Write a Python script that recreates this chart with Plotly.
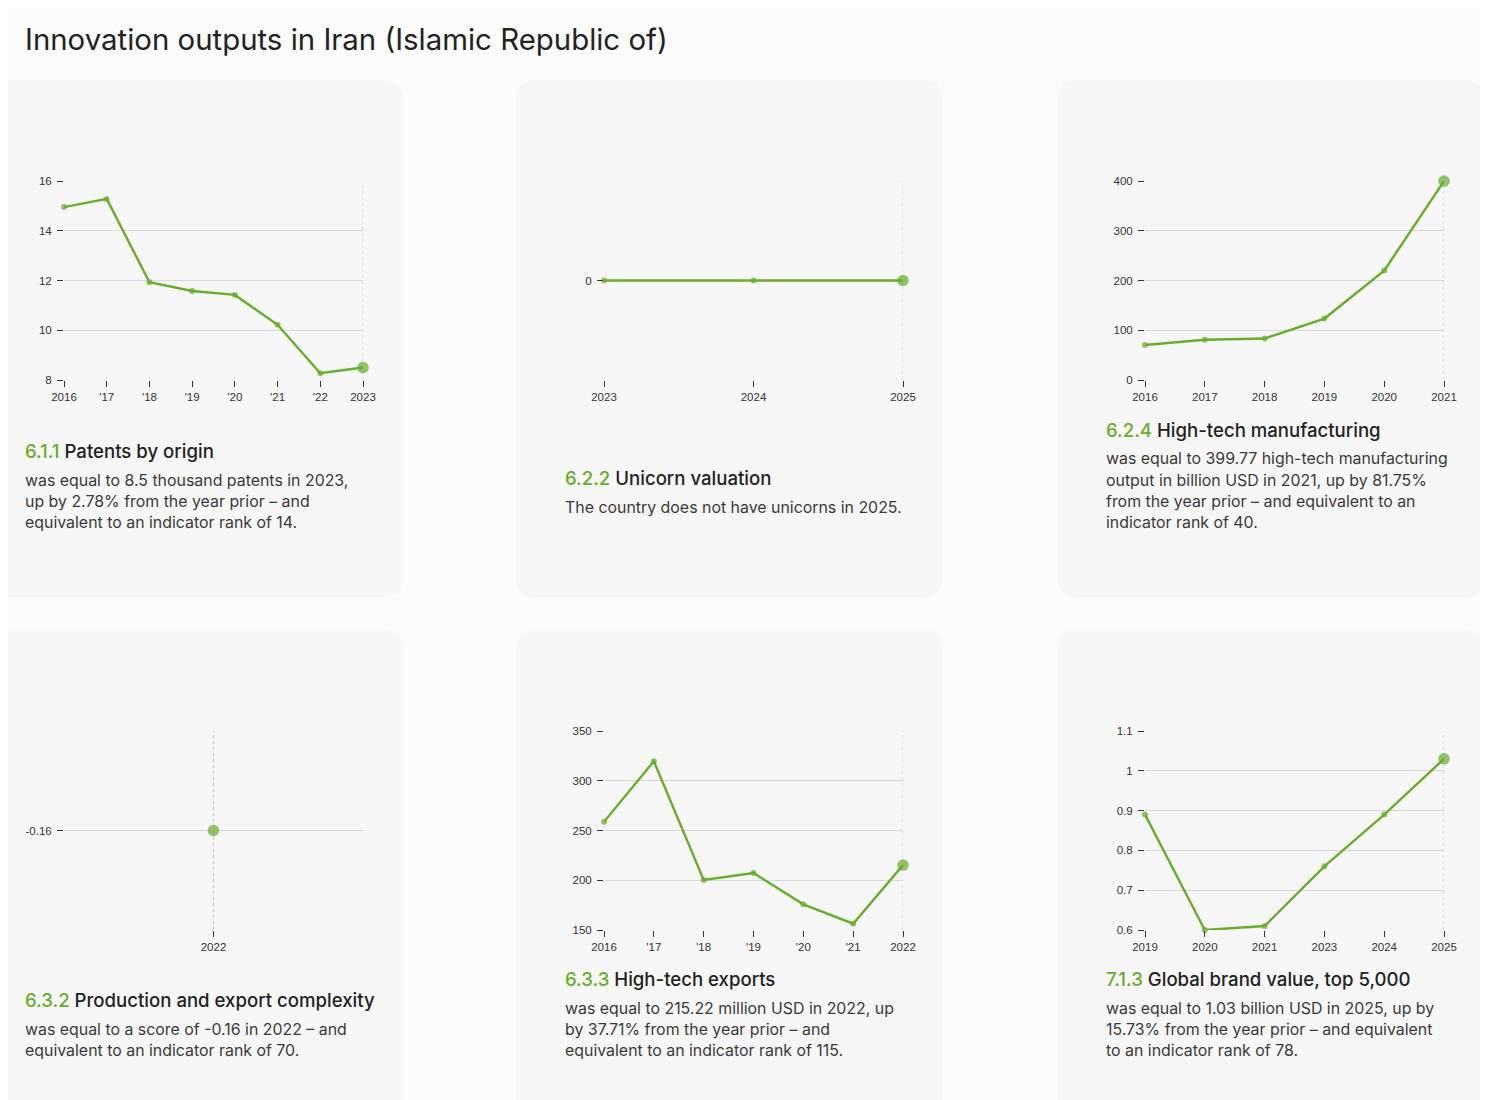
import plotly.graph_objects as go

W, H = 1488, 1100
# the page body adds an 8px margin, so everything is laid out 8px up/left
OFF = 8
GREEN = "#68ad2b"
INK = "#222222"
BODY = "#3a3a3a"
TICK = "#333333"
GRID = "#d5d8df"
PAGE_BG = "#fcfcfc"
CARD_BG = "#f8f7f8"

PAGE_TITLE = "Innovation outputs in Iran (Islamic Republic of)"

# --- data ---
patent_years = ["2016", "2017", "2018", "2019", "2020", "2021", "2022", "2023"]
patent_labels = ["2016", "'17", "'18", "'19", "'20", "'21", "'22", "2023"]
patent_values = [14.95, 15.28, 11.93, 11.58, 11.42, 10.22, 8.27, 8.50]
patent_ticks = [8, 10, 12, 14, 16]

unicorn_years = ["2023", "2024", "2025"]
unicorn_labels = ["2023", "2024", "2025"]
unicorn_values = [0, 0, 0]
unicorn_ticks = [0]

mfg_years = ["2016", "2017", "2018", "2019", "2020", "2021"]
mfg_labels = ["2016", "2017", "2018", "2019", "2020", "2021"]
mfg_values = [70.5, 81.0, 83.3, 123.5, 219.96, 399.77]
mfg_ticks = [0, 100, 200, 300, 400]

complexity_years = ["2022"]
complexity_labels = ["2022"]
complexity_values = [-0.16]
complexity_ticks = [-0.16]

exports_years = ["2016", "2017", "2018", "2019", "2020", "2021", "2022"]
exports_labels = ["2016", "'17", "'18", "'19", "'20", "'21", "2022"]
exports_values = [258.7, 319.6, 200.2, 207.2, 175.8, 156.29, 215.22]
exports_ticks = [150, 200, 250, 300, 350]

brand_years = ["2019", "2020", "2021", "2023", "2024", "2025"]
brand_labels = ["2019", "2020", "2021", "2023", "2024", "2025"]
brand_values = [0.89, 0.60, 0.61, 0.76, 0.89, 1.03]
brand_ticks = [0.6, 0.7, 0.8, 0.9, 1, 1.1]

codes = ["6.1.1", "6.2.2", "6.2.4", "6.3.2", "6.3.3", "7.1.3"]
names = ["Patents by origin", "Unicorn valuation", "High-tech manufacturing",
         "Production and export complexity", "High-tech exports",
         "Global brand value, top 5,000"]
bodies = [
    ["was equal to 8.5 thousand patents in 2023,",
     "up by 2.78% from the year prior \u2013 and",
     "equivalent to an indicator rank of 14."],
    ["The country does not have unicorns in 2025."],
    ["was equal to 399.77 high-tech manufacturing",
     "output in billion USD in 2021, up by 81.75%",
     "from the year prior \u2013 and equivalent to an",
     "indicator rank of 40."],
    ["was equal to a score of -0.16 in 2022 \u2013 and",
     "equivalent to an indicator rank of 70."],
    ["was equal to 215.22 million USD in 2022, up",
     "by 37.71% from the year prior \u2013 and",
     "equivalent to an indicator rank of 115."],
    ["was equal to 1.03 billion USD in 2025, up by",
     "15.73% from the year prior \u2013 and equivalent",
     "to an indicator rank of 78."],
]

series = [
    (patent_years, patent_labels, patent_values, patent_ticks),
    (unicorn_years, unicorn_labels, unicorn_values, unicorn_ticks),
    (mfg_years, mfg_labels, mfg_values, mfg_ticks),
    (complexity_years, complexity_labels, complexity_values, complexity_ticks),
    (exports_years, exports_labels, exports_values, exports_ticks),
    (brand_years, brand_labels, brand_values, brand_ticks),
]

# card / layout geometry in screen pixels
COL_LEFT = [-24, 516, 1057]
ROW_TOP = [80, 630]
CARD_W, CARD_H = 427, 517
TITLE_Y = [451, 478, 430, 1000, 979, 979]
# y ranges where the ticks don't span the whole plot
YRANGE = {1: [-1, 1], 3: [-0.26, -0.06]}


def px(x):
    return min(max(x - OFF, 0), W) / W


def py(y):
    return 1 - min(max(y - OFF, 0), H) / H


def card_path(x0, y0, x1, y1, r=20):
    # corners that fall off the page are drawn square, clipped at the edge
    left_out, bottom_out = x0 < OFF, y1 > H + OFF
    rl = 0 if left_out else r
    rb = 0 if bottom_out else r
    pts = [("M", [(x0 + rl, y0)]), ("L", [(x1 - r, y0)]), ("Q", [(x1, y0), (x1, y0 + r)]),
           ("L", [(x1, y1 - rb)]), ("Q", [(x1, y1), (x1 - rb, y1)]),
           ("L", [(x0 + min(rl, rb), y1)]), ("Q", [(x0, y1), (x0, y1 - min(rl, rb))]),
           ("L", [(x0, y0 + rl)]), ("Q", [(x0, y0), (x0 + rl, y0)])]
    s = ""
    for cmd, ps in pts:
        s += cmd + " " + " ".join(f"{px(a):.5f},{py(b):.5f}" for a, b in ps) + " "
    return s + "Z"


fig = go.Figure()
shapes, annotations = [], []
layout_axes = {}
tickfont = dict(family="Arial, Liberation Sans, sans-serif", size=11.5, color=TICK)

for i, (years, labels, values, ticks) in enumerate(series):
    row, col = divmod(i, 3)
    cl, ct = COL_LEFT[col], ROW_TOP[row]
    shapes.append(dict(type="path", path=card_path(cl, ct, cl + CARD_W, ct + CARD_H),
                       xref="paper", yref="paper", fillcolor=CARD_BG,
                       line=dict(width=0), layer="below"))
    x0, x1 = cl + 88, cl + 387
    y0, y1 = ct + 101, ct + 300
    n = len(years)
    sfx = "" if i == 0 else str(i + 1)
    xa, ya = "x" + sfx, "y" + sfx
    sizes = [6] * (n - 1) + [11.5]
    fig.add_trace(go.Scatter(
        x=years, y=values, mode="lines+markers", xaxis=xa, yaxis=ya,
        line=dict(color=GREEN, width=2.4),
        marker=dict(color=GREEN, size=sizes, line=dict(width=0)),
        cliponaxis=False, showlegend=False, hoverinfo="x+y"))
    xr = [0, n - 1] if n > 1 else [-1, 1]
    yr = YRANGE.get(i, [min(ticks), max(ticks)])
    layout_axes["xaxis" + sfx] = dict(
        domain=[px(x0), px(x1)], anchor=ya, type="category", range=xr,
        tickmode="array", tickvals=years, ticktext=labels, automargin=False,
        ticks="outside", ticklen=6, tickcolor=TICK, tickwidth=1,
        showgrid=False, zeroline=False, showline=False, tickfont=tickfont, fixedrange=True)
    layout_axes["yaxis" + sfx] = dict(
        domain=[py(y1), py(y0)], anchor=xa, range=yr, automargin=False,
        tickmode="array", tickvals=ticks, ticktext=[f"{t:g}" for t in ticks],
        ticks="outside", ticklen=6, tickcolor=TICK, tickwidth=1, ticklabelstandoff=3,
        showgrid=True, gridcolor=GRID, gridwidth=1.2,
        zeroline=False, showline=False, tickfont=tickfont, fixedrange=True)
    # dashed marker line at the latest year
    shapes.append(dict(type="line", xref=xa, yref=ya + " domain",
                       x0=n - 1, x1=n - 1, y0=0, y1=1,
                       line=dict(color="#c3c7d0", width=1, dash="3px,3px"), layer="below"))

    tx = cl + 47
    ty = TITLE_Y[i]
    annotations.append(dict(
        x=px(tx), y=py(ty), xref="paper", yref="paper", xanchor="left", yanchor="middle",
        showarrow=False, align="left",
        text=f"<span style='color:{GREEN}'>{codes[i]}</span> {names[i]}",
        font=dict(family="Inter, sans-serif", size=18.6, color=INK, weight=500)))
    for k, line in enumerate(bodies[i]):
        annotations.append(dict(
            x=px(tx), y=py(ty + 29 + 21 * k), xref="paper", yref="paper",
            xanchor="left", yanchor="middle", showarrow=False, align="left", text=line,
            font=dict(family="Inter, sans-serif", size=15.9, color=BODY)))

annotations.append(dict(
    x=px(23), y=py(40), xref="paper", yref="paper", xanchor="left", yanchor="middle",
    showarrow=False, text=PAGE_TITLE,
    font=dict(family="Inter, sans-serif", size=29.4, color=INK)))

fig.update_layout(
    width=W, height=H, autosize=False,
    margin=dict(l=0, r=0, t=0, b=0, pad=0, autoexpand=False),
    paper_bgcolor=PAGE_BG, plot_bgcolor="rgba(0,0,0,0)",
    shapes=shapes, annotations=annotations, showlegend=False, **layout_axes)

fig.write_html("out.html", config={"responsive": False, "displayModeBar": False})
